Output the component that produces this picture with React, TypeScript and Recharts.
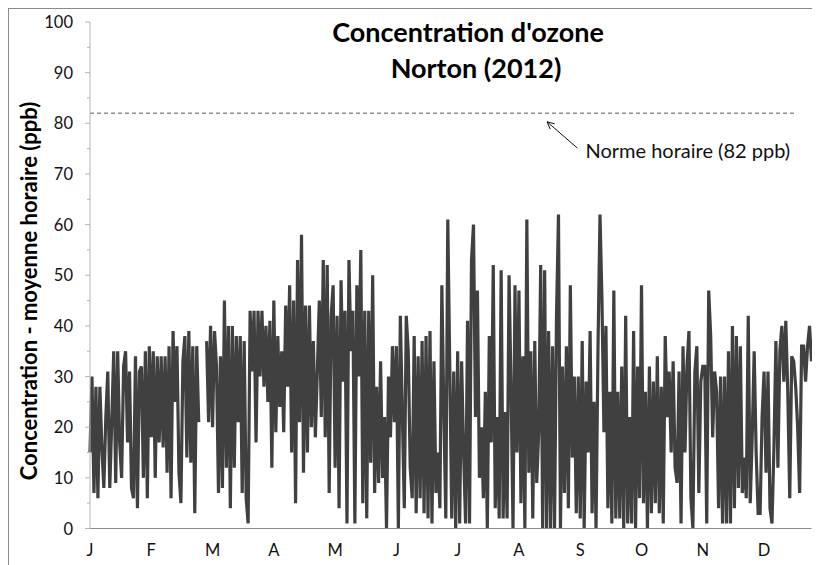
import React from 'react';
import { LineChart, Line, XAxis, YAxis, ReferenceLine } from 'recharts';

// Daily envelope of the hourly ozone series (ppb), 366 days of 2012
const ozoneJanFeb: (number | null)[] = [
  15, 30, 7, 28, 6, 28, 16, 8, 22, 31, 8, 21, 35, 9, 35, 17, 10, 32, 35, 17,
  31, 8, 6, 34, 4, 31, 32, 10, 35, 6, 36, 18, 35, 10, 34, 17, 34, 16, 34, 11,
  36, 6, 39, 25, 36, 11, 5, 33, 38, 14, 39, 13, 36, 3, 36, 21, null, null, null, 37,
  21, 40, 20, 39,
];
const ozoneMarApr: (number | null)[] = [
  32, 7, 34, 8, 45, 12, 40, 4, 40, 12, 38, 21, 38, 7, 37, 6, 1, 43, 31, 43,
  17, 43, 30, 43, 28, 40, 25, 41, 12, 45, 19, 38, 24, 35, 19, 44, 28, 48, 15, 45,
  5, 53, 21, 58, 11, 44, 15, 44, 20, 37, 18, 31, 45, 22, 53, 18, 52, 7, 42,
];
const ozoneMayJun: (number | null)[] = [
  48, 12, 42, 4, 49, 29, 43, 1, 53, 35, 43, 1, 48, 30, 55, 5, 43, 2, 43, 13,
  50, 7, 28, 9, 33, 10, 22, 0, 30, 18, 36, 21, 36, 0, 42, 23, 4, 42, 35, 12,
  6, 38, 3, 34, 6, 37, 3, 38, 2, 39, 1, 33, 7, 15, 4, 48, 23, 2,
];
const ozoneJulAug: (number | null)[] = [
  61, 32, 2, 31, 0, 35, 1, 33, 15, 1, 41, 1, 53, 60, 22, 47, 10, 20, 6, 27,
  0, 38, 17, 52, 4, 22, 2, 51, 2, 23, 2, 50, 28, 0, 48, 15, 47, 5, 34, 0,
  61, 11, 35, 2, 37, 9, 19, 52, 0, 51, 0, 39, 0, 36, 0, 42, 62, 0, 32,
];
const ozoneSepOct: (number | null)[] = [
  7, 36, 4, 48, 14, 30, 3, 30, 2, 37, 0, 29, 15, 39, 3, 25, 0, 36, 62, 45,
  19, 40, 4, 27, 1, 47, 2, 27, 2, 32, 0, 42, 1, 22, 1, 39, 0, 32, 6, 48,
  5, 27, 0, 32, 3, 29, 5, 34, 3, 28, 1, 38, 22, 31, 15, 33, 12,
];
const ozoneNovDec: (number | null)[] = [
  9, 31, 1, 36, 15, 32, 39, 6, 0, 31, 36, 7, 29, 32, 32, 1, 47, 38, 18, 31,
  27, 4, 30, 1, 30, 1, 35, 1, 40, 4, 38, 8, 36, 7, 14, 6, 42, 5, 18, 35,
  15, 3, 3, 22, 31, 11, 31, 4, 1, 16, 37, 12, 35, 40, 29, 41, 27, 6, 34, 33,
  28, 20, 7, 36, 36, 29, 36, 40, 33,
];

const monthLabels = ['J', 'F', 'M', 'A', 'M', 'J', 'J', 'A', 'S', 'O', 'N', 'D'];
const labelStepDays = 31;
const yMajorTicks = [0, 10, 20, 30, 40, 50, 60, 70, 80, 90, 100];
const yMinorStep = 5;
const normValue = 82;
const normLabel = 'Norme horaire (82 ppb)';
const titleLines = ["Concentration d'ozone", 'Norton (2012)'];
const yAxisTitle = 'Concentration - moyenne horaire (ppb)';

const ozone = [
  ...ozoneJanFeb,
  ...ozoneMarApr,
  ...ozoneMayJun,
  ...ozoneJulAug,
  ...ozoneSepOct,
  ...ozoneNovDec,
];
const data = ozone.map((v, i) => ({ day: i, ozone: v }));
const lastDay = ozone.length - 1;
const xTicks = monthLabels.map((_, i) => i * labelStepDays);
const yTicks: number[] = [];
for (let v = 0; v <= 100; v += yMinorStep) yTicks.push(v);

const FONT = 'Lato, "Open Sans", sans-serif';

const YTick = (props: any) => {
  const { x, y, payload } = props;
  const v = payload.value as number;
  const major = yMajorTicks.includes(v);
  return (
    <g>
      <line x1={x - (major ? 5 : 3)} x2={x} y1={y} y2={y} stroke="#b5b5b5" strokeWidth={1} />
      {major && (
        <text
          x={x - 17}
          y={y}
          textAnchor="end"
          dominantBaseline="central"
          fontFamily={FONT}
          fontSize={16.5}
          fill="#111"
        >
          {v}
        </text>
      )}
    </g>
  );
};

const ArrowShape = (props: any) => {
  const { x1, y1, x2, y2 } = props;
  const ang = Math.atan2(y2 - y1, x2 - x1);
  const L = 8;
  const a1 = ang + 0.45;
  const a2 = ang - 0.45;
  return (
    <g>
      <line x1={x1} y1={y1} x2={x2} y2={y2} stroke="#111" strokeWidth={1} />
      <polyline
        points={`${x1 + L * Math.cos(a1)},${y1 + L * Math.sin(a1)} ${x1},${y1} ${x1 + L * Math.cos(a2)},${y1 + L * Math.sin(a2)}`}
        fill="none"
        stroke="#111"
        strokeWidth={1}
      />
      <text x={x2 + 8} y={y2 + 10} fontFamily={FONT} fontSize={20} fill="#111">
        {normLabel}
      </text>
    </g>
  );
};

export default function App() {
  const W = 810;
  const H = 556;
  return (
    <div
      style={{
        position: 'relative',
        width: W,
        height: H,
        border: '1px solid #8a8a8a',
        background: '#fff',
      }}
    >
      <div style={{ position: 'absolute', left: 0, top: 0 }}>
        <LineChart
          width={W}
          height={H}
          data={data}
          margin={{ top: 13, right: 7.5, left: 0, bottom: 6.5 }}
        >
          <XAxis
            dataKey="day"
            type="number"
            domain={[0, lastDay]}
            ticks={xTicks}
            interval={0}
            tickFormatter={(v: number) => monthLabels[Math.round(v / labelStepDays)]}
            tickLine={false}
            tickSize={0}
            tickMargin={16}
            height={30}
            axisLine={{ stroke: '#8c8c8c', strokeWidth: 1 }}
            tick={{ fontFamily: FONT, fontSize: 16.5, fill: '#111' }}
          />
          <YAxis
            type="number"
            domain={[0, 100]}
            ticks={yTicks}
            interval={0}
            width={81}
            tickLine={false}
            tickSize={0}
            tickMargin={0}
            axisLine={{ stroke: '#b5b5b5', strokeWidth: 1 }}
            tick={<YTick />}
          />
          <ReferenceLine
            segment={[
              { x: 0, y: normValue },
              { x: 357.5, y: normValue },
            ]}
            stroke="#595959"
            strokeWidth={1}
            strokeDasharray="4 3"
          />
          <ReferenceLine
            segment={[
              { x: 231.2, y: 80.3 },
              { x: 246.6, y: 75.1 },
            ]}
            shape={<ArrowShape />}
          />
          <Line
            type="linear"
            dataKey="ozone"
            stroke="#404040"
            strokeWidth={3.2}
            dot={false}
            activeDot={false}
            connectNulls={false}
            isAnimationActive={false}
          />
        </LineChart>
      </div>
      <svg
        width={W}
        height={H}
        style={{ position: 'absolute', left: 0, top: 0, pointerEvents: 'none' }}
      >
        <text x={459} y={33} textAnchor="middle" fontFamily={FONT} fontWeight={700} fontSize={27} fill="#000">
          {titleLines[0]}
        </text>
        <text x={467} y={68.5} textAnchor="middle" fontFamily={FONT} fontWeight={700} fontSize={27} fill="#000">
          {titleLines[1]}
        </text>
        <text
          transform="translate(19, 282) rotate(-90)"
          textAnchor="middle"
          dominantBaseline="central"
          fontFamily={FONT}
          fontWeight={700}
          fontSize={22}
          fill="#000"
        >
          {yAxisTitle}
        </text>
      </svg>
    </div>
  );
}
